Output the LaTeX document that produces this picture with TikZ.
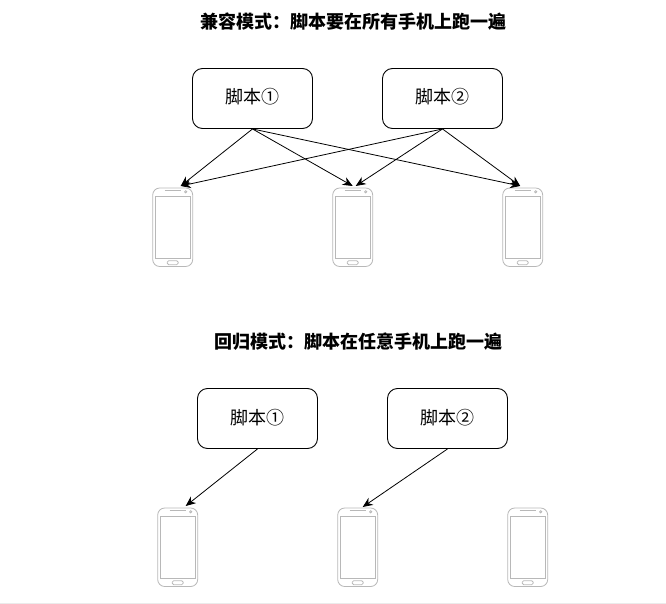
\documentclass[tikz,border=0pt]{standalone}
\usepackage{fontspec}
\setmainfont{Noto Sans CJK SC}
\usetikzlibrary{arrows.meta}
\tikzset{
  x=1pt,y=-1pt,
  titletext/.style={font=\fontsize{18}{20}\selectfont\bfseries,inner sep=0pt,anchor=center},
  scriptbox/.style={draw=black,line width=0.9pt,rounded corners=10pt,minimum width=120pt,minimum height=60pt,inner sep=0pt,text height=11pt,text depth=0pt,font=\fontsize{18}{20}\selectfont},
  phoneline/.style={draw=black!28,line width=0.8pt},
  arrowline/.style={draw=black,line width=0.8pt,-{Stealth[length=10pt,width=8.5pt]}},
  pics/phone/.style={code={
    \node[minimum width=40pt,minimum height=78.5pt,inner sep=0pt,anchor=north west] (-body) at (0,0) {};
    \draw[phoneline,rounded corners=7pt] (0,0) rectangle (40,78.5);
    \draw[phoneline] (2.2,8) rectangle (37.8,70);
    \draw[phoneline,rounded corners=1.5pt] (14.5,72.7) rectangle (25.5,76.7);
    \draw[phoneline,line width=1.5pt] (12,2.5) -- (28,2.5);
    \draw[phoneline,line width=0.8pt] (33,3.8) circle (1.1pt);
    \coordinate (-a) at (28,-2);
    \coordinate (-b) at (20,-2);
    \coordinate (-c) at (23,-2);
    \coordinate (-d) at (17.5,-2);
    \coordinate (-e) at (25,-1);
  }}
}
\begin{document}
\begin{tikzpicture}
\useasboundingbox (0,0) rectangle (666,604);
\draw[black!8,line width=1pt] (0,603.5) -- (666,603.5);
\node[titletext] (t1) at (353,22) {兼容模式：脚本要在所有手机上跑一遍};
\node[titletext] (t2) at (358,342) {回归模式：脚本在任意手机上跑一遍};
\node[scriptbox] (s1) at (252.5,98.5) {脚本①};
\node[scriptbox] (s2) at (442.5,98.5) {脚本②};
\node[scriptbox] (s3) at (257.5,418.5) {脚本①};
\node[scriptbox] (s4) at (447.5,418.5) {脚本②};
\pic (p1) at (152.7,188) {phone};
\pic (p2) at (332.7,188) {phone};
\pic (p3) at (502.7,188) {phone};
\pic (p4) at (157.7,508) {phone};
\pic (p5) at (337.7,508) {phone};
\pic (p6) at (507.7,508) {phone};
\draw[arrowline] (s1.south) -- (p1-a);
\draw[arrowline] (s1.south) -- (p2-b);
\draw[arrowline] (s1.south) -- (p3-d);
\draw[arrowline] (s2.south) -- (p1-a);
\draw[arrowline] (s2.south) -- (p2-c);
\draw[arrowline] (s2.south) -- (p3-d);
\draw[arrowline] (s3.south) -- (p4-a);
\draw[arrowline] (s4.south) -- (p5-e);
\end{tikzpicture}
\end{document}
